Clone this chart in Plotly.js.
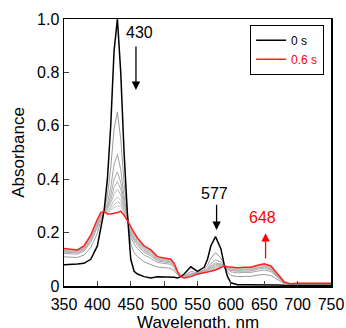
<!DOCTYPE html>
<html>
<head>
<meta charset="utf-8">
<script src="https://cdn.plot.ly/plotly-3.0.1.min.js"></script>
<style>html,body{margin:0;padding:0;background:#fff;}#chart{width:346px;height:328px;}</style>
</head>
<body>
<div id="chart"></div>
<script>
const wavelength = [350,360,370,380,390,400,405,410,415,420,425,430,435,440,445,450,455,460,470,480,490,500,510,515,520,525,530,540,550,560,565,570,577,585,590,595,600,610,620,630,640,650,660,670,680,690,700,720,750];

const abs0s = [.080,.080,.082,.085,.100,.150,.220,.280,.400,.600,.880,1.000,.800,.500,.270,.100,.055,.045,.035,.030,.035,.035,.035,.033,.030,.035,.045,.072,.055,.070,.100,.150,.185,.140,.080,.035,.012,.005,.005,.005,.006,.006,.005,.004,.003,.003,.003,.002,.002];

const abs06s = [.140,.137,.135,.150,.190,.250,.275,.280,.270,.270,.272,.275,.280,.265,.245,.220,.200,.180,.150,.135,.110,.105,.100,.085,.055,.035,.030,.035,.045,.050,.052,.055,.060,.068,.075,.072,.070,.068,.070,.070,.078,.083,.075,.045,.015,.008,.010,.010,.010];

const absGray1 = [.109,.107,.107,.116,.143,.198,.246,.280,.338,.442,.588,.652,.550,.387,.258,.158,.125,.110,.090,.080,.071,.069,.066,.058,.042,.035,.038,.054,.050,.060,.077,.104,.125,.105,.078,.053,.040,.035,.036,.036,.041,.043,.039,.024,.009,.005,.006,.006,.006];
const absGray2 = [.122,.120,.119,.131,.163,.220,.259,.280,.309,.369,.454,.493,.436,.336,.253,.184,.157,.140,.116,.104,.088,.084,.081,.069,.048,.035,.035,.046,.048,.056,.066,.084,.098,.090,.077,.061,.053,.049,.051,.051,.056,.060,.054,.033,.011,.007,.008,.008,.008];
const absGray3 = [.127,.125,.124,.136,.171,.229,.263,.280,.297,.339,.400,.427,.389,.314,.250,.195,.170,.152,.126,.113,.094,.090,.086,.074,.050,.035,.033,.043,.047,.054,.062,.075,.086,.083,.076,.064,.058,.055,.056,.056,.063,.067,.060,.036,.012,.007,.009,.008,.008];
const absGray4 = [.130,.128,.127,.140,.176,.234,.266,.280,.291,.323,.369,.391,.363,.303,.249,.201,.177,.158,.132,.118,.098,.094,.090,.077,.051,.035,.032,.041,.047,.053,.060,.070,.080,.080,.076,.066,.061,.058,.060,.060,.067,.071,.064,.038,.013,.007,.009,.009,.009];
const absGray5 = [.133,.130,.129,.142,.179,.238,.268,.280,.286,.310,.345,.362,.342,.293,.248,.206,.183,.164,.136,.122,.101,.097,.092,.079,.052,.035,.032,.039,.046,.052,.058,.066,.075,.077,.076,.068,.063,.060,.062,.062,.069,.074,.067,.040,.014,.007,.009,.009,.009];
const absGray6 = [.135,.132,.131,.145,.183,.242,.271,.280,.280,.296,.321,.333,.322,.284,.247,.210,.188,.169,.141,.127,.104,.099,.095,.081,.053,.035,.031,.038,.046,.052,.056,.063,.070,.074,.075,.069,.065,.063,.065,.065,.072,.077,.069,.042,.014,.008,.009,.009,.009];
const absGray7 = [.137,.134,.132,.146,.185,.245,.272,.280,.277,.288,.305,.315,.309,.278,.246,.213,.192,.173,.144,.129,.106,.101,.096,.082,.054,.035,.031,.037,.046,.051,.055,.060,.067,.072,.075,.070,.067,.065,.066,.066,.074,.079,.071,.043,.014,.008,.010,.010,.010];
const absGray8 = [.138,.135,.133,.148,.187,.247,.273,.280,.275,.282,.293,.300,.298,.273,.246,.216,.195,.175,.146,.131,.107,.103,.098,.083,.054,.035,.031,.036,.045,.051,.054,.058,.064,.071,.075,.071,.068,.066,.068,.068,.075,.080,.073,.044,.015,.008,.010,.010,.010];

const grayCurves = [absGray1,absGray2,absGray3,absGray4,absGray5,absGray6,absGray7,absGray8];
const grayColors = ['#9a9a9a','#a2a2a2','#aaaaaa','#b0b0b0','#b6b6b6','#bcbcbc','#c2c2c2','#c8c8c8'];

const xTicks = [350,400,450,500,550,600,650,700,750];
const yTicks = [0,0.2,0.4,0.6,0.8,1.0];
const yTickText = ['0','0.2','0.4','0.6','0.8','1.0'];

const traces = [];
grayCurves.forEach((g,i)=>{
  traces.push({x:wavelength,y:g,type:'scatter',mode:'lines',line:{color:grayColors[i],width:1},showlegend:false,hoverinfo:'skip'});
});
traces.push({x:wavelength,y:abs0s,type:'scatter',mode:'lines',name:'0 s',line:{color:'#000000',width:1.5}});
traces.push({x:wavelength,y:abs06s,type:'scatter',mode:'lines',name:'<span style="color:#ff0000">0.6 s</span>',line:{color:'#ff2020',width:1.5}});

const font = {family:'Liberation Sans, Arial, sans-serif', color:'#000'};

const layout = {
  width:346, height:328,
  margin:{l:64,r:15,t:19,b:42},
  paper_bgcolor:'#fff', plot_bgcolor:'#fff',
  font:Object.assign({size:16},font),
  xaxis:{range:[350,750],tickvals:xTicks,ticks:'inside',ticklen:5,tickwidth:1,showline:true,mirror:true,linewidth:1.5,linecolor:'#000',showgrid:false,zeroline:false,
    tickfont:Object.assign({size:16},font),ticklabelstandoff:3},
  yaxis:{range:[0,1],tickvals:yTicks,ticktext:yTickText,ticks:'inside',ticklen:5,tickwidth:1,showline:true,mirror:true,linewidth:1.5,linecolor:'#000',showgrid:false,zeroline:false,
    tickfont:Object.assign({size:16},font),
    title:{text:'Absorbance',font:Object.assign({size:17},font),standoff:8}},
  legend:{x:0.697,y:0.978,xanchor:'left',yanchor:'top',bordercolor:'#000',borderwidth:1,bgcolor:'#fff',font:Object.assign({size:12},font),tracegroupgap:0},
  showlegend:true,
  annotations:[
    {x:0.5,y:-0.092,xref:'paper',yref:'paper',xanchor:'center',yanchor:'top',text:'Wavelength, nm',showarrow:false,font:Object.assign({size:17},font)},
    {x:463.8,y:0.949,xref:'x',yref:'y',text:'430',showarrow:false,font:Object.assign({size:16},font)},
    {x:457.8,y:0.734,ax:457.8,ay:0.903,xref:'x',yref:'y',axref:'x',ayref:'y',text:'',showarrow:true,arrowhead:2,arrowsize:1.3,arrowwidth:1.3,arrowcolor:'#000'},
    {x:576,y:0.348,xref:'x',yref:'y',text:'577',showarrow:false,font:Object.assign({size:16},font)},
    {x:578.6,y:0.21,ax:578.6,ay:0.31,xref:'x',yref:'y',axref:'x',ayref:'y',text:'',showarrow:true,arrowhead:2,arrowsize:1.3,arrowwidth:1.3,arrowcolor:'#000'},
    {x:648,y:0.255,xref:'x',yref:'y',text:'648',showarrow:false,font:{family:font.family,size:16,color:'#ff0000'}},
    {x:652,y:0.198,ax:652,ay:0.097,xref:'x',yref:'y',axref:'x',ayref:'y',text:'',showarrow:true,arrowhead:2,arrowsize:1.3,arrowwidth:1.3,arrowcolor:'#ff0000'}
  ]
};

Plotly.newPlot('chart',traces,layout,{displayModeBar:false,staticPlot:true});
</script>
</body>
</html>
